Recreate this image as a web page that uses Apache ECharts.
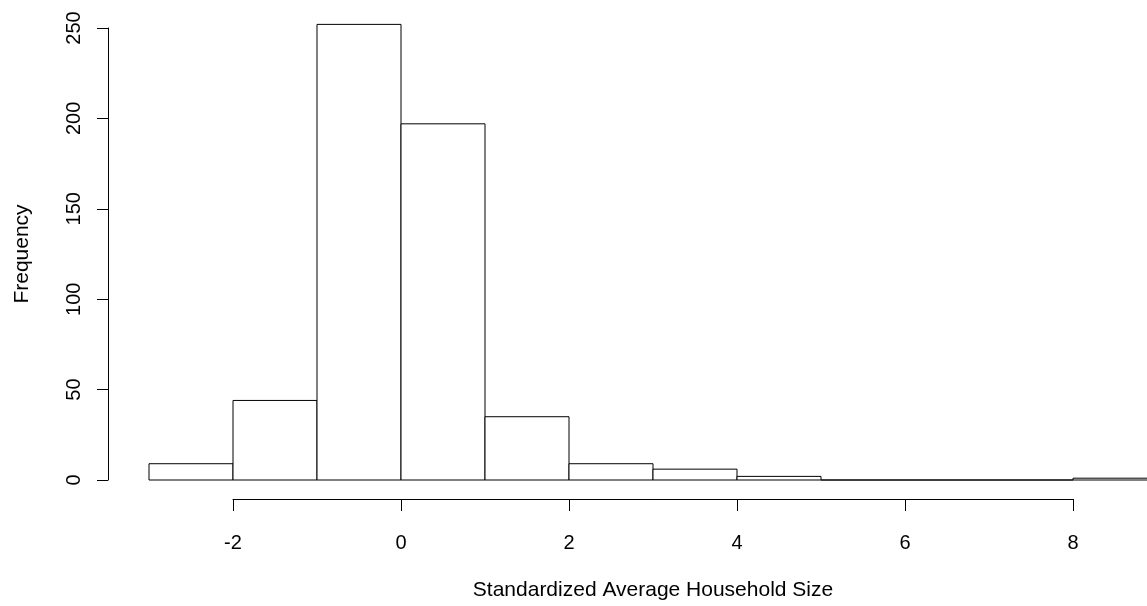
<!DOCTYPE html>
<html>
<head>
<meta charset="utf-8">
<script src="https://cdn.jsdelivr.net/npm/echarts@6/dist/echarts.min.js"></script>
<style>html,body{margin:0;padding:0;background:#fff}#c{width:1147px;height:606px}</style>
</head>
<body>
<div id="c"></div>
<script>
// Histogram bins (left edges / right edges) and counts
var binStarts = [-3, -2, -1, 0, 1, 2, 3, 4, 5, 6, 7, 8];
var binEnds   = [-2, -1, 0, 1, 2, 3, 4, 5, 6, 7, 8, 9];
var counts    = [9, 44, 252, 197, 35, 9, 6, 2, 0, 0, 0, 1];
var yTicks = [0, 50, 100, 150, 200, 250];
var xTicks = [-2, 0, 2, 4, 6, 8];
var xTitle = 'Standardized Average Household Size';
var yTitle = 'Frequency';

var FONT = 'Liberation Sans, Arial, sans-serif';
var data = binStarts.map(function (s, i) { return [s, binEnds[i], counts[i]]; });

var chart = echarts.init(document.getElementById('c'), null, {renderer: 'canvas'});
chart.setOption({
  animation: false,
  backgroundColor: '#fff',
  grid: [
    {left: 149, width: 1008, top: 28, height: 452, outerBoundsMode: 'none', containLabel: false},
    {left: 233, width: 840, top: 400, height: 99, outerBoundsMode: 'none', containLabel: false}
  ],
  xAxis: [
    {gridIndex: 0, type: 'value', min: -3, max: 9, show: false},
    {gridIndex: 1, type: 'value', min: xTicks[0], max: xTicks[xTicks.length - 1], interval: 2, position: 'bottom',
     axisLine: {show: true, onZero: false, lineStyle: {color: '#000', width: 1}},
     axisTick: {show: true, length: 12, lineStyle: {color: '#000'}},
     axisLabel: {show: true, margin: 34, fontSize: 20, color: '#000', fontFamily: FONT},
     splitLine: {show: false},
     name: xTitle, nameLocation: 'middle', nameGap: 81,
     nameTextStyle: {fontSize: 21, color: '#000', fontFamily: FONT}}
  ],
  yAxis: [
    {gridIndex: 0, type: 'value', min: yTicks[0], max: yTicks[yTicks.length - 1], interval: 50, offset: 41, position: 'left',
     axisLine: {show: true, onZero: false, lineStyle: {color: '#000', width: 1}},
     axisTick: {show: true, length: 11, lineStyle: {color: '#000'}},
     axisLabel: {show: true, rotate: 90, margin: 24, fontSize: 20, color: '#000', fontFamily: FONT},
     splitLine: {show: false},
     name: yTitle, nameLocation: 'middle', nameGap: 75,
     nameTextStyle: {fontSize: 21, color: '#000', fontFamily: FONT}},
    {gridIndex: 1, type: 'value', show: false}
  ],
  series: [{
    type: 'custom',
    xAxisIndex: 0, yAxisIndex: 0,
    clip: false,
    data: data,
    renderItem: function (params, api) {
      var p0 = api.coord([api.value(0), api.value(2)]);
      var p1 = api.coord([api.value(1), 0]);
      return {
        type: 'rect',
        shape: {x: p0[0], y: p0[1], width: p1[0] - p0[0], height: p1[1] - p0[1]},
        style: {fill: '#fff', stroke: '#000', lineWidth: 1}
      };
    }
  }]
});
</script>
</body>
</html>
